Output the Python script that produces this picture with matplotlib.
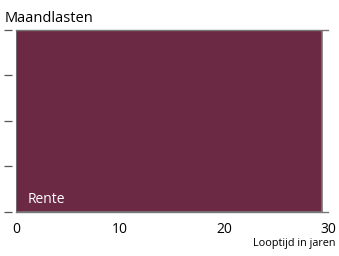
import matplotlib.pyplot as plt

plt.rcParams['font.family'] = ['Open Sans', 'DejaVu Sans']

jaren = [0, 29.4]
rente = [4, 4]
xticks = [0, 10, 20, 30]
yticks = [0, 1, 2, 3, 4]

fig = plt.figure(figsize=(3.39, 2.56), dpi=100)
ax = fig.add_axes([0.047, 0.172, 0.921, 0.711])

ax.fill_between(jaren, 0, rente, color='#6c2944', edgecolor='#777777', linewidth=1.2)
ax.set_xlim(0, 30)
ax.set_ylim(0, 4)
ax.set_xticks(xticks)
ax.set_yticks(yticks)
ax.set_yticklabels([])
ax.tick_params(axis='x', length=0, labelsize=10, pad=7)
ax.tick_params(axis='y', length=6, width=0.9, color='#555555', pad=2, direction='out')
for s in ['top', 'bottom']:
    ax.spines[s].set_color('#777777')
    ax.spines[s].set_linewidth(1)
ax.spines['right'].set_visible(False)
ax.spines['left'].set_visible(False)
ax.spines['left'].set_position(('outward', 3))
for lbl in ax.get_xticklabels():
    lbl.set_x(lbl.get_position()[0])

fig.text(0.015, 0.928, 'Maandlasten', fontsize=10.5, ha='left', va='center')
ax.text(1.1, 0.28, 'Rente', color='white', fontsize=10, ha='left', va='center')
fig.text(0.99, 0.05, 'Looptijd in jaren', fontsize=7.8, ha='right', va='center')

fig.savefig('out.png', dpi=100)
